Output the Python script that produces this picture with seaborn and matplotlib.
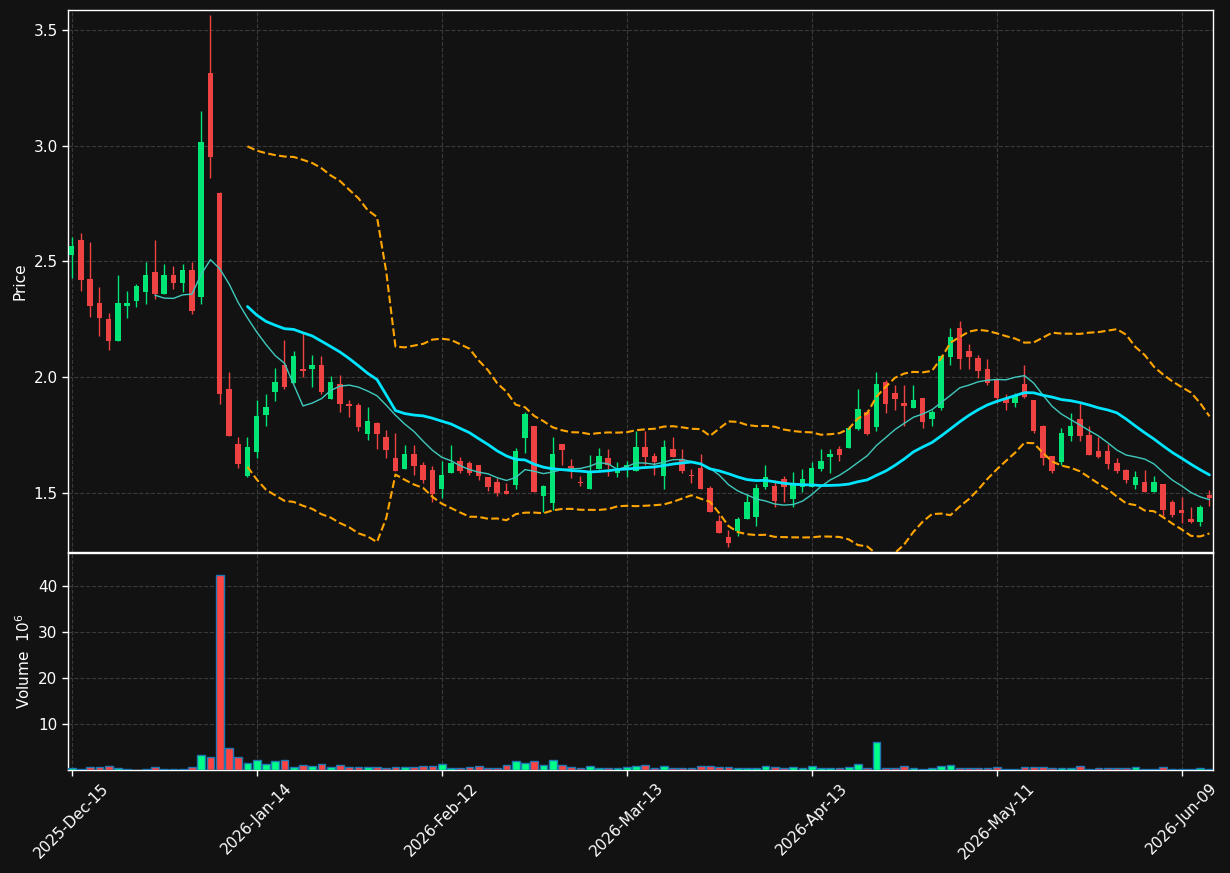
import numpy as np
import pandas as pd
import seaborn as sns
import matplotlib
matplotlib.use("Agg")
import matplotlib.pyplot as plt

# daily OHLC (one candle per trading day)
opens = [2.528, 2.591, 2.423, 2.319, 2.250, 2.156, 2.309, 2.328, 2.369, 2.453,
         2.358, 2.441, 2.408, 2.462, 2.346, 3.312, 2.795, 1.949, 1.710, 1.573,
         1.676, 1.838, 1.937, 2.052, 1.976, 2.034, 2.034, 2.052, 1.907, 1.970,
         1.886, 1.881, 1.755, 1.802, 1.741, 1.650, 1.605, 1.668, 1.620, 1.599,
         1.518, 1.587, 1.638, 1.629, 1.620, 1.569, 1.547, 1.508, 1.536, 1.739,
         1.788, 1.488, 1.458, 1.710, 1.616, 1.546, 1.518, 1.605, 1.650, 1.585,
         1.605, 1.596, 1.698, 1.659, 1.573, 1.688, 1.646, 1.578, 1.607, 1.521,
         1.379, 1.310, 1.335, 1.386, 1.398, 1.527, 1.530, 1.560, 1.473, 1.527,
         1.527, 1.604, 1.654, 1.689, 1.694, 1.776, 1.850, 1.784, 1.979, 1.931,
         1.887, 1.868, 1.910, 1.818, 1.868, 2.088, 2.211, 2.112, 2.082, 2.037,
         1.989, 1.908, 1.887, 1.970, 1.900, 1.788, 1.658, 1.634, 1.746, 1.818,
         1.749, 1.680, 1.680, 1.631, 1.598, 1.536, 1.547, 1.503, 1.538, 1.461,
         1.428, 1.387, 1.374, 1.491]
highs = [2.606, 2.621, 2.582, 2.391, 2.279, 2.439, 2.370, 2.400, 2.499, 2.591,
         2.490, 2.481, 2.490, 2.499, 3.150, 3.563, 2.800, 2.021, 1.740, 1.740,
         1.901, 1.926, 2.039, 2.159, 2.115, 2.189, 2.097, 2.091, 2.006, 2.009,
         1.901, 1.889, 1.869, 1.805, 1.770, 1.757, 1.708, 1.706, 1.633, 1.617,
         1.637, 1.708, 1.656, 1.638, 1.620, 1.569, 1.563, 1.544, 1.695, 1.849,
         1.790, 1.536, 1.740, 1.710, 1.647, 1.572, 1.662, 1.695, 1.689, 1.633,
         1.638, 1.769, 1.769, 1.674, 1.728, 1.740, 1.688, 1.605, 1.667, 1.530,
         1.405, 1.338, 1.398, 1.496, 1.540, 1.619, 1.556, 1.575, 1.589, 1.602,
         1.635, 1.688, 1.688, 1.701, 1.788, 1.947, 1.856, 2.021, 1.989, 1.964,
         1.964, 1.968, 1.910, 1.860, 2.096, 2.211, 2.241, 2.141, 2.096, 2.080,
         1.998, 1.926, 1.932, 2.052, 1.900, 1.794, 1.658, 1.779, 1.843, 1.893,
         1.791, 1.743, 1.713, 1.649, 1.605, 1.593, 1.601, 1.575, 1.538, 1.469,
         1.481, 1.440, 1.449, 1.512]
lows = [2.426, 2.370, 2.258, 2.178, 2.118, 2.156, 2.256, 2.304, 2.316, 2.339,
        2.358, 2.379, 2.369, 2.274, 2.316, 2.861, 1.886, 1.745, 1.608, 1.569,
        1.649, 1.788, 1.899, 1.947, 1.976, 2.000, 1.958, 1.926, 1.907, 1.848,
        1.830, 1.769, 1.728, 1.688, 1.649, 1.595, 1.605, 1.577, 1.545, 1.461,
        1.476, 1.587, 1.587, 1.577, 1.557, 1.507, 1.488, 1.497, 1.518, 1.671,
        1.503, 1.416, 1.428, 1.622, 1.563, 1.530, 1.518, 1.605, 1.574, 1.569,
        1.569, 1.596, 1.622, 1.577, 1.518, 1.655, 1.585, 1.544, 1.518, 1.416,
        1.326, 1.266, 1.313, 1.386, 1.356, 1.518, 1.438, 1.461, 1.438, 1.506,
        1.527, 1.593, 1.586, 1.640, 1.694, 1.772, 1.752, 1.769, 1.843, 1.860,
        1.788, 1.868, 1.779, 1.788, 1.860, 2.052, 2.037, 2.037, 1.998, 1.968,
        1.889, 1.860, 1.869, 1.908, 1.758, 1.619, 1.587, 1.622, 1.724, 1.724,
        1.665, 1.649, 1.605, 1.587, 1.545, 1.518, 1.503, 1.503, 1.401, 1.398,
        1.371, 1.371, 1.356, 1.442]
closes = [2.568, 2.420, 2.309, 2.256, 2.156, 2.319, 2.319, 2.393, 2.441, 2.358,
          2.441, 2.408, 2.462, 2.286, 3.014, 2.949, 1.928, 1.746, 1.626, 1.698,
          1.832, 1.871, 1.979, 1.958, 2.091, 2.027, 2.052, 1.937, 1.979, 1.886,
          1.875, 1.784, 1.809, 1.755, 1.686, 1.595, 1.668, 1.616, 1.556, 1.497,
          1.576, 1.631, 1.596, 1.587, 1.573, 1.527, 1.499, 1.497, 1.681, 1.841,
          1.503, 1.530, 1.668, 1.686, 1.608, 1.545, 1.593, 1.659, 1.620, 1.605,
          1.620, 1.698, 1.655, 1.634, 1.698, 1.655, 1.596, 1.575, 1.518, 1.416,
          1.326, 1.286, 1.386, 1.461, 1.521, 1.568, 1.465, 1.527, 1.545, 1.560,
          1.607, 1.638, 1.668, 1.663, 1.781, 1.862, 1.754, 1.970, 1.886, 1.907,
          1.877, 1.901, 1.807, 1.848, 2.091, 2.172, 2.079, 2.088, 2.028, 1.976,
          1.908, 1.887, 1.920, 1.916, 1.769, 1.649, 1.596, 1.757, 1.788, 1.746,
          1.665, 1.657, 1.626, 1.596, 1.556, 1.568, 1.503, 1.547, 1.428, 1.406,
          1.415, 1.374, 1.438, 1.476]
# volume in millions
volumes = [0.40, 0.30, 0.65, 0.65, 0.85, 0.40, 0.20, 0.05, 0.20, 0.65,
           0.20, 0.20, 0.20, 0.65, 3.24, 2.95, 42.5, 4.75, 2.80, 1.50,
           2.15, 1.30, 1.95, 2.15, 0.80, 1.10, 0.85, 1.30, 0.65, 1.10,
           0.65, 0.65, 0.65, 0.65, 0.40, 0.65, 0.65, 0.65, 0.85, 0.85,
           1.30, 0.40, 0.40, 0.65, 0.85, 0.40, 0.40, 1.10, 1.95, 1.50,
           1.95, 1.10, 2.15, 1.10, 0.65, 0.40, 0.85, 0.40, 0.40, 0.40,
           0.65, 0.85, 1.10, 0.40, 0.85, 0.40, 0.40, 0.40, 0.85, 0.85,
           0.65, 0.65, 0.40, 0.40, 0.40, 0.85, 0.65, 0.40, 0.65, 0.40,
           0.85, 0.40, 0.40, 0.40, 0.65, 1.30, 0.40, 6.05, 0.40, 0.40,
           0.85, 0.40, 0.20, 0.40, 0.85, 1.10, 0.40, 0.40, 0.40, 0.40,
           0.65, 0.20, 0.20, 0.65, 0.65, 0.65, 0.40, 0.40, 0.40, 0.85,
           0.20, 0.40, 0.40, 0.40, 0.40, 0.65, 0.20, 0.20, 0.65, 0.20,
           0.20, 0.20, 0.40, 0.20]

tick_pos = [0, 20, 40, 60, 80, 100, 120]
tick_labels = ["2025-Dec-15", "2026-Jan-14", "2026-Feb-12", "2026-Mar-13",
               "2026-Apr-13", "2026-May-11", "2026-Jun-09"]

df = pd.DataFrame({"Open": opens, "High": highs, "Low": lows,
                   "Close": closes, "Volume": volumes})
df["idx"] = np.arange(len(df))
df["ma10"] = df["Close"].rolling(10).mean()
df["ma20"] = df["Close"].rolling(20).mean()
std20 = df["Close"].rolling(20).std(ddof=0)
df["upper"] = df["ma20"] + 2 * std20
df["lower"] = df["ma20"] - 2 * std20

bg = "#121212"
sns.set_theme(style="dark", rc={
    "figure.facecolor": bg, "axes.facecolor": bg, "axes.edgecolor": "white",
    "text.color": "white", "axes.labelcolor": "white",
    "xtick.color": "white", "ytick.color": "white",
})
plt.rcParams["font.family"] = ["DejaVu Sans"]

up_c, down_c = "#00e676", "#ef4343"
vol_up, vol_down = "#00ff88", "#ff4444"

fig = plt.figure(figsize=(12.3, 8.73), dpi=100)
ax = fig.add_axes([0.0553, 0.3677, 0.931, 0.6208])
axv = fig.add_axes([0.0553, 0.118, 0.931, 0.2486], sharex=ax)

is_up = df["Close"] >= df["Open"]
colors = np.where(is_up, up_c, down_c)

# candles: wicks then bodies
ax.vlines(df["idx"], df["Low"], df["High"], colors=colors, linewidth=1, zorder=2)
body = (df["Close"] - df["Open"]).abs().clip(lower=0.004)
ax.bar(df["idx"], body, bottom=np.minimum(df["Open"], df["Close"]),
       width=0.6, color=colors, linewidth=0, zorder=3)

ind = df.dropna()
sns.lineplot(data=df.dropna(subset=["ma10"]), x="idx", y="ma10", ax=ax,
             color="#3fc9bd", linewidth=1.0, estimator=None, zorder=4)
sns.lineplot(data=ind, x="idx", y="ma20", ax=ax, color="#00e5ff",
             linewidth=2.0, estimator=None, zorder=4)
for col in ["upper", "lower"]:
    sns.lineplot(data=ind, x="idx", y=col, ax=ax, color="orange",
                 linewidth=1.5, linestyle="--", estimator=None, zorder=4)

vcolors = np.where(is_up, vol_up, vol_down)
axv.bar(df["idx"], df["Volume"], width=0.85, color=vcolors,
        edgecolor="#1f77b4", linewidth=1.0, zorder=3)

ax.set_xlim(-0.4, 123.4)
ax.set_ylim(1.245, 3.585)
ax.set_yticks([1.5, 2.0, 2.5, 3.0, 3.5])
ax.set_ylabel("Price", fontsize=11)
ax.set_xlabel("")
axv.set_ylim(0.05, 47.2)
axv.set_yticks([10, 20, 30, 40])
axv.set_ylabel("Volume  $10^{6}$", fontsize=11)
axv.set_xlabel("")
axv.set_xticks(tick_pos)
axv.set_xticklabels(tick_labels, rotation=45, ha="center", fontsize=11)
plt.setp(ax.get_xticklabels(), visible=False)

for a in (ax, axv):
    a.grid(True, color="#3a3a3a", linestyle="--", linewidth=0.8)
    a.set_axisbelow(True)
    a.tick_params(axis="both", which="both", length=4, width=1,
                  left=True, bottom=True, labelsize=11)
    for s in a.spines.values():
        s.set_color("white")
        s.set_linewidth(1.0)
ax.tick_params(axis="x", length=0)

fig.savefig("out.png", dpi=100, facecolor=bg)
